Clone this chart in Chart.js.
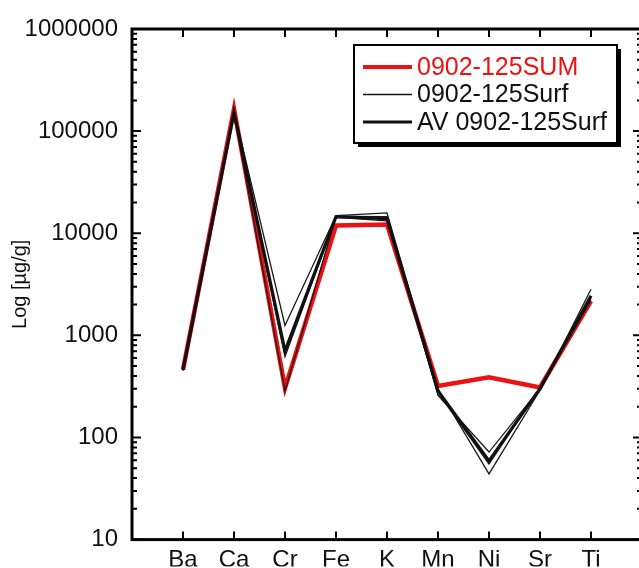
<!DOCTYPE html>
<html>
<head>
<meta charset="utf-8">
<script src="https://cdn.jsdelivr.net/npm/chart.js@4"></script>
<style>
  html, body { margin: 0; padding: 0; background: #fff; overflow: hidden; }
  #wrap { position: relative; width: 643px; height: 568px; }
</style>
</head>
<body>
<div id="wrap"><canvas id="chart"></canvas></div>
<script>
// Elements on the x axis
const elements = ['Ba', 'Ca', 'Cr', 'Fe', 'K', 'Mn', 'Ni', 'Sr', 'Ti'];

// Concentrations in µg/g
const sumValues   = [460, 165000, 305, 11900, 12200, 319, 388, 309, 2170];
const surfRun1    = [450, 158000, 1250, 14900, 15800, 300, 44, 290, 2830];
const surfRun2    = [470, 148000, 620, 14300, 13200, 275, 55, 310, 2300];
const surfRun3    = [460, 150000, 285, 14600, 14500, 258, 72, 300, 2200];
const avSurf      = [460, 152000, 700, 14500, 13900, 285, 59, 300, 2440];

// Labelled decades on the log axis
const yTicks = [10, 100, 1000, 10000, 100000, 1000000];

const legendItems = [
  { text: '0902-125SUM', color: '#ee1111', width: 4, textColor: '#ee1111' },
  { text: '0902-125Surf', color: '#111', width: 1.3, textColor: '#111' },
  { text: 'AV 0902-125Surf', color: '#111', width: 3, textColor: '#111' }
];

const FONT = '"Liberation Sans", Arial, Helvetica, sans-serif';
const toPoints = arr => arr.map((v, i) => ({ x: i + 1, y: v }));

function series(label, values, color, width, order) {
  return {
    label, data: toPoints(values), borderColor: color, backgroundColor: color,
    borderWidth: width, pointRadius: 0, tension: 0, fill: false,
    borderJoinStyle: 'miter', order
  };
}

// Frame with inward ticks on all four sides
const framePlugin = {
  id: 'frame',
  afterDatasetsDraw(chart) {
    const { ctx, chartArea: ca, scales } = chart;
    const ys = scales.y, xs = scales.x;
    ctx.save();
    ctx.strokeStyle = '#000';
    ctx.lineCap = 'butt';
    ctx.lineWidth = 2;
    ctx.beginPath();
    for (let d = 1; d <= 5; d++) {
      const base = Math.pow(10, d);
      for (let m = 1; m <= 9; m++) {
        const v = base * m;
        if (v > 1e6) break;
        const py = ys.getPixelForValue(v);
        const len = m === 1 ? 9 : 5;
        ctx.moveTo(ca.left, py); ctx.lineTo(ca.left + len, py);
        ctx.moveTo(ca.right, py); ctx.lineTo(ca.right - len, py);
      }
    }
    elements.forEach((_, i) => {
      const px = xs.getPixelForValue(i + 1);
      ctx.moveTo(px, ca.bottom); ctx.lineTo(px, ca.bottom - 8);
      ctx.moveTo(px, ca.top); ctx.lineTo(px, ca.top + 8);
    });
    ctx.stroke();
    ctx.lineWidth = 3;
    ctx.strokeRect(ca.left, ca.top, ca.right - ca.left, ca.bottom - ca.top);
    ctx.restore();
  }
};

// Boxed legend with drop shadow inside the plot area
const boxLegendPlugin = {
  id: 'boxLegend',
  afterDraw(chart) {
    const { ctx, chartArea: ca } = chart;
    const w = 263, h = 98;
    const x = ca.right - 288, y = ca.top + 16;
    ctx.save();
    ctx.fillStyle = '#000';
    ctx.fillRect(x + 4, y + 4, w, h);
    ctx.fillStyle = '#fff';
    ctx.fillRect(x, y, w, h);
    ctx.strokeStyle = '#000';
    ctx.lineWidth = 2;
    ctx.strokeRect(x, y, w, h);
    ctx.font = '25px ' + FONT;
    ctx.textBaseline = 'middle';
    ctx.textAlign = 'left';
    legendItems.forEach((it, i) => {
      const ry = y + 22 + i * 27.5;
      ctx.strokeStyle = it.color;
      ctx.lineWidth = it.width;
      ctx.beginPath();
      ctx.moveTo(x + 9, ry); ctx.lineTo(x + 58, ry);
      ctx.stroke();
      ctx.fillStyle = it.textColor;
      ctx.fillText(it.text, x + 63, ry + 1);
    });
    ctx.restore();
  }
};

new Chart(document.getElementById('chart'), {
  type: 'line',
  data: {
    datasets: [
      series('AV 0902-125Surf', avSurf, '#111', 3.2, 0),
      series('0902-125Surf', surfRun1, '#1a1a1a', 1.3, 1),
      series('0902-125Surf', surfRun2, '#1a1a1a', 1.3, 1),
      series('0902-125Surf', surfRun3, '#1a1a1a', 1.3, 1),
      series('0902-125SUM', sumValues, '#ee1111', 4.5, 2)
    ]
  },
  options: {
    responsive: true,
    maintainAspectRatio: false,
    animation: false,
    events: [],
    layout: { padding: { top: 29, right: 1, left: 0, bottom: 0 } },
    plugins: { legend: { display: false }, tooltip: { enabled: false } },
    scales: {
      x: {
        type: 'linear', min: 0, max: 10, position: 'bottom',
        grid: { display: false, drawTicks: false },
        border: { display: false },
        afterBuildTicks: s => { s.ticks = elements.map((_, i) => ({ value: i + 1 })); },
        afterFit: s => { s.height = 27; },
        ticks: {
          autoSkip: false, maxRotation: 0, padding: 6, color: '#111',
          font: { family: FONT, size: 24 },
          callback: v => elements[v - 1] || ''
        }
      },
      y: {
        type: 'logarithmic', min: 10, max: 1000000, position: 'left',
        grid: { display: false, drawTicks: false },
        border: { display: false },
        afterBuildTicks: s => { s.ticks = yTicks.map(v => ({ value: v })); },
        afterFit: s => { s.width = 132; },
        title: {
          display: true, text: 'Log [µg/g]', color: '#111',
          font: { family: FONT, size: 20 }, padding: { top: 8, bottom: 0 }
        },
        ticks: {
          autoSkip: false, padding: 14, color: '#111',
          font: { family: FONT, size: 24 },
          callback: v => String(v)
        }
      }
    }
  },
  plugins: [framePlugin, boxLegendPlugin]
});
</script>
</body>
</html>
